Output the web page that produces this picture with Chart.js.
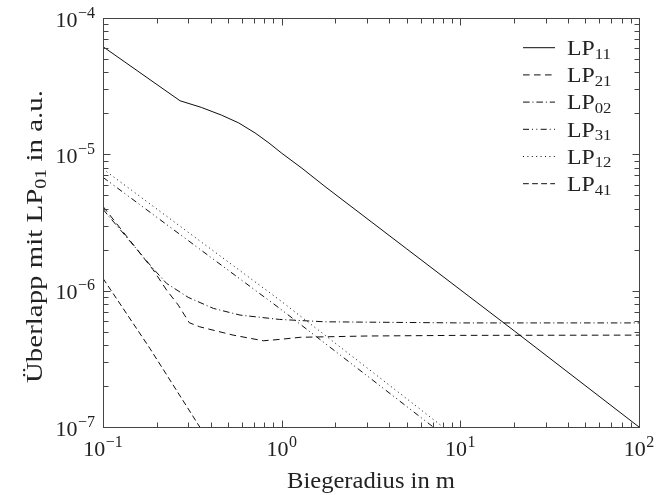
<!DOCTYPE html>
<html>
<head>
<meta charset="utf-8">
<script src="https://cdn.jsdelivr.net/npm/chart.js@4.4.1/dist/chart.umd.min.js"></script>
<style>
  html, body { margin: 0; padding: 0; background: #fff; }
  canvas { display: block; }
</style>
</head>
<body>
<canvas id="myChart" width="659" height="495"></canvas>
<script>
'use strict';

// values (x = bend radius in m, y = overlap in a.u.)
let lp11X = [0.1, 0.27, 0.355, 0.46, 0.575, 0.71, 0.85, 1.0, 1.3, 1.75, 5, 20, 100];
let lp11Y = [6.16e-5, 2.47e-5, 2.21e-5, 1.94e-5, 1.70e-5, 1.435e-5, 1.21e-5, 1.02e-5, 7.9e-6, 5.8e-6, 2.03e-6, 5.08e-7, 1.0e-7];

let lp21X = [0.1, 0.191, 0.227, 0.264, 0.304, 0.348, 0.535, 0.79, 0.975, 1.27, 3, 10, 100];
let lp21Y = [4.15e-6, 1.42e-6, 1.01e-6, 7.83e-7, 5.82e-7, 5.43e-7, 4.72e-7, 4.29e-7, 4.39e-7, 4.55e-7, 4.65e-7, 4.7e-7, 4.72e-7];

let lp02X = [0.1, 0.191, 0.227, 0.30, 0.415, 0.585, 0.975, 1.75, 10, 100];
let lp02Y = [3.95e-6, 1.45e-6, 1.13e-6, 8.93e-7, 7.41e-7, 6.62e-7, 6.15e-7, 5.91e-7, 5.8e-7, 5.8e-7];

let lp31X = [0.1, 0.3, 0.975, 3, 7.05, 10];
let lp31Y = [6.78e-6, 2.33e-6, 7.41e-7, 2.38e-7, 1.0e-7, 7.0e-8];

let lp12X = [0.1, 0.3, 0.975, 3, 8.0, 10];
let lp12Y = [7.8e-6, 2.68e-6, 8.53e-7, 2.72e-7, 1.0e-7, 7.96e-8];

let lp41X = [0.1, 0.183, 0.348, 0.4];
let lp41Y = [1.23e-6, 3.77e-7, 1.0e-7, 7.7e-8];

let seriesLabels = ['LP11', 'LP21', 'LP02', 'LP31', 'LP12', 'LP41'];
let xTickExps = [-1, 0, 1, 2];
let yTickExps = [-7, -6, -5, -4];

let xTitle = 'Biegeradius in m';
let yTitleParts = ['Überlapp mit LP', '01', ' in a.u.'];

const serif = '"Liberation Serif", "DejaVu Serif", serif';
const ink = '#222';

//Helper Functions
function toPoints(xs, ys) {
  return xs.map((x, i) => ({ x: x, y: ys[i] }));
}

function makeSet(label, xs, ys, dash) {
  return {
    label: label,
    data: toPoints(xs, ys),
    borderColor: '#000',
    borderWidth: 0.95,
    borderDash: dash,
    pointRadius: 0,
    tension: 0,
    fill: false
  };
}

function crisp(v) {
  return Math.round(v) + 0.5;
}

// draws pieces [{text, size, dy, gap}] one after another, stretched by sx, starting at x
function drawPieces(ctx, pieces, x, y, sx) {
  let cx = x;
  for (let p of pieces) {
    ctx.font = p.size + 'px ' + serif;
    cx += (p.gap || 0);
    ctx.save();
    ctx.translate(cx, y + (p.dy || 0));
    ctx.scale(sx, 1);
    ctx.fillText(p.text, 0, 0);
    ctx.restore();
    cx += ctx.measureText(p.text).width * sx;
  }
  return cx - x;
}

function piecesWidth(ctx, pieces, sx) {
  let w = 0;
  for (let p of pieces) {
    ctx.font = p.size + 'px ' + serif;
    w += ctx.measureText(p.text).width * sx + (p.gap || 0);
  }
  return w;
}

function powPieces(e) {
  let s = e < 0 ? '\u2212' + Math.abs(e) : String(e);
  return [{ text: '10', size: 22 }, { text: s, size: 16, dy: -9, gap: 0.5 }];
}

const decorations = {
  id: 'decorations',
  afterDraw(chart) {
    let ctx = chart.ctx;
    let a = chart.chartArea;
    let sx = chart.scales.x;
    let sy = chart.scales.y;
    ctx.save();

    // frame
    ctx.strokeStyle = '#444';
    ctx.lineWidth = 1;
    ctx.setLineDash([]);
    let L = crisp(a.left), R = crisp(a.right), T = crisp(a.top), B = crisp(a.bottom);
    ctx.strokeRect(L, T, R - L, B - T);

    // inward ticks on all four sides
    ctx.beginPath();
    for (let e = -1; e <= 2; e++) {
      for (let k = 1; k <= 9; k++) {
        let v = k * Math.pow(10, e);
        if (v < 0.1 - 1e-9 || v > 100 + 1e-9) continue;
        let len = k === 1 ? 7 : 5;
        let px = crisp(sx.getPixelForValue(v));
        ctx.moveTo(px, B); ctx.lineTo(px, B - len);
        ctx.moveTo(px, T); ctx.lineTo(px, T + len);
      }
    }
    for (let e = -7; e <= -4; e++) {
      for (let k = 1; k <= 9; k++) {
        let v = k * Math.pow(10, e);
        if (v > 1e-4 * 1.0001) continue;
        let len = k === 1 ? 7 : 5;
        let py = crisp(sy.getPixelForValue(v));
        ctx.moveTo(L, py); ctx.lineTo(L + len, py);
        ctx.moveTo(R, py); ctx.lineTo(R - len, py);
      }
    }
    ctx.stroke();

    ctx.fillStyle = ink;
    ctx.textBaseline = 'alphabetic';
    ctx.textAlign = 'left';

    // x tick labels
    for (let e of xTickExps) {
      let pcs = powPieces(e);
      let w = piecesWidth(ctx, pcs, 1);
      let px = sx.getPixelForValue(Math.pow(10, e));
      drawPieces(ctx, pcs, px - w / 2, a.bottom + 29, 1);
    }
    // y tick labels
    for (let e of yTickExps) {
      let pcs = powPieces(e);
      let w = piecesWidth(ctx, pcs, 1);
      let py = sy.getPixelForValue(Math.pow(10, e));
      drawPieces(ctx, pcs, a.left - 8 - w, py + 8.5, 1);
    }

    // x title
    let xp = [{ text: xTitle, size: 23 }];
    let xs1 = 168 / piecesWidth(ctx, xp, 1);
    drawPieces(ctx, xp, (a.left + a.right) / 2 - 84, 488, xs1);

    // y title, rotated
    let yp = [
      { text: yTitleParts[0], size: 23 },
      { text: yTitleParts[1], size: 16, dy: 3.5 },
      { text: yTitleParts[2], size: 23 }
    ];
    let ys1 = 293 / piecesWidth(ctx, yp, 1);
    ctx.save();
    ctx.translate(42, 236.5);
    ctx.rotate(-Math.PI / 2);
    drawPieces(ctx, yp, -146.5, 0, ys1);
    ctx.restore();

    // legend
    chart.data.datasets.forEach((ds, i) => {
      let ly = 47.7 + 27.2 * i;
      ctx.strokeStyle = '#000';
      ctx.lineWidth = 0.95;
      ctx.setLineDash(ds.borderDash || []);
      ctx.beginPath();
      ctx.moveTo(523, ly);
      ctx.lineTo(555, ly);
      ctx.stroke();
      ctx.setLineDash([]);
      let lp = [
        { text: ds.label.slice(0, 2), size: 22 },
        { text: ds.label.slice(2), size: 15.5, dy: 3.5 }
      ];
      drawPieces(ctx, lp, 567, ly + 7.3, 1.08);
    });

    ctx.restore();
  }
};

let datasets = [
  makeSet(seriesLabels[0], lp11X, lp11Y, []),
  makeSet(seriesLabels[1], lp21X, lp21Y, [6.6, 4.4]),
  makeSet(seriesLabels[2], lp02X, lp02Y, [6.6, 2.9, 1, 2.9]),
  makeSet(seriesLabels[3], lp31X, lp31Y, [6, 3, 1, 3.3, 1, 3.4]),
  makeSet(seriesLabels[4], lp12X, lp12Y, [1, 3.4]),
  makeSet(seriesLabels[5], lp41X, lp41Y, [5.8, 3.3])
];

const config = {
  type: 'line',
  data: { datasets: datasets },
  options: {
    responsive: false,
    animation: false,
    layout: { padding: { left: 103, right: 20, top: 18, bottom: 68 } },
    plugins: { legend: { display: false }, tooltip: { enabled: false } },
    scales: {
      x: {
        type: 'logarithmic', min: 0.1, max: 100,
        grid: { display: false, drawTicks: false },
        border: { display: false },
        ticks: { display: false }
      },
      y: {
        type: 'logarithmic', min: 1e-7, max: 1e-4,
        grid: { display: false, drawTicks: false },
        border: { display: false },
        ticks: { display: false }
      }
    }
  },
  plugins: [decorations]
};

const myChart = new Chart(document.getElementById('myChart'), config);
</script>
</body>
</html>
